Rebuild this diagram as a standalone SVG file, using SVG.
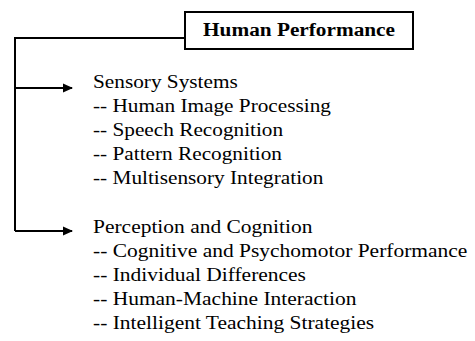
<svg xmlns="http://www.w3.org/2000/svg" width="475" height="341" viewBox="0 0 475 341">
<style>
.ln{fill:none;stroke:#000;stroke-width:2}
.t{font-family:"Liberation Serif","Times New Roman",serif;font-size:19px;fill:#000}
.b{font-weight:bold;text-anchor:middle}
</style>
<defs>
<marker id="ah" markerWidth="10" markerHeight="10" refX="9" refY="5" orient="auto" markerUnits="userSpaceOnUse">
<path d="M0,0.5 L10,5 L0,9.5 Z" fill="#000"/>
</marker>
</defs>
<rect width="475" height="341" fill="#fff"/>
<g id="connectors">
<path class="ln" d="M185,38 H15 V231"/>
<path class="ln" d="M15,88 H72" marker-end="url(#ah)"/>
<path class="ln" d="M15,231 H72" marker-end="url(#ah)"/>
</g>
<g id="human-performance">
<rect class="ln" x="185" y="12" width="228" height="37"/>
<text class="t b" transform="translate(299,36) scale(1.12,1)">Human Performance</text>
</g>
<g id="sensory-systems" transform="translate(93,0) scale(1.12,1)">
<text class="t" x="0" y="88">Sensory Systems</text>
<text class="t" x="0" y="112">-- Human Image Processing</text>
<text class="t" x="0" y="136">-- Speech Recognition</text>
<text class="t" x="0" y="160">-- Pattern Recognition</text>
<text class="t" x="0" y="184">-- Multisensory Integration</text>
</g>
<g id="perception-cognition" transform="translate(93,0) scale(1.13,1)">
<text class="t" x="0" y="233">Perception and Cognition</text>
<text class="t" x="0" y="257">-- Cognitive and Psychomotor Performance</text>
<text class="t" x="0" y="281">-- Individual Differences</text>
<text class="t" x="0" y="305">-- Human-Machine Interaction</text>
<text class="t" x="0" y="329">-- Intelligent Teaching Strategies</text>
</g>
</svg>
